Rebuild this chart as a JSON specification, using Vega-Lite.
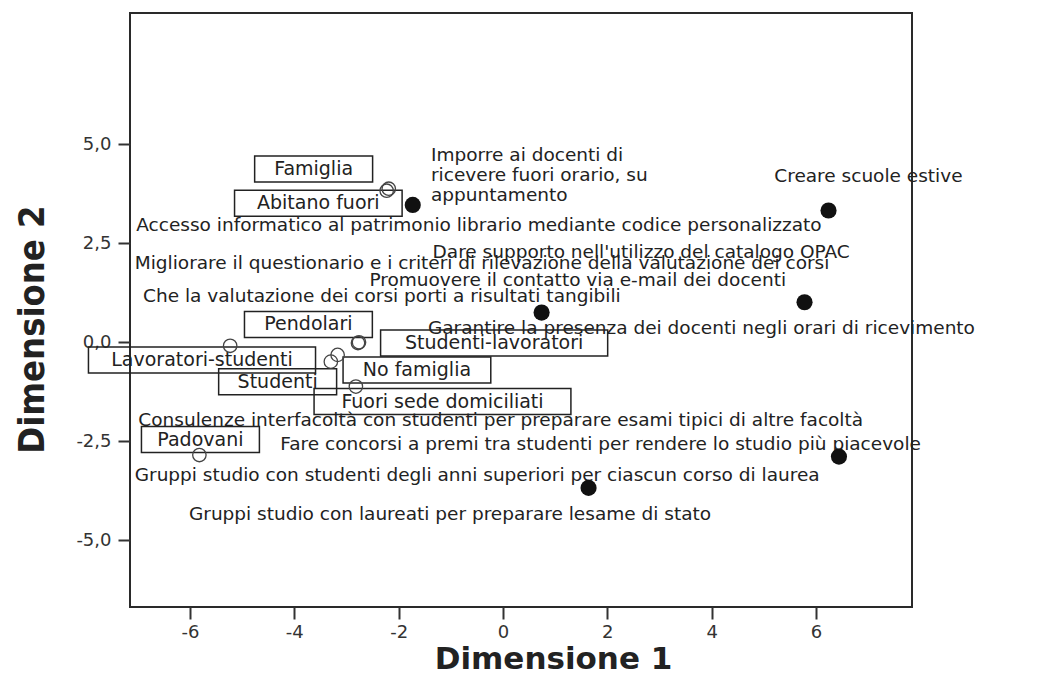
{
  "$schema": "https://vega.github.io/schema/vega-lite/v6.json",
  "width": 782,
  "height": 594,
  "autosize": {"type": "none"},
  "padding": {"left": 130, "top": 13, "right": 144, "bottom": 69},
  "background": "white",
  "config": {
    "view": {"stroke": "#2a2a2a", "strokeWidth": 2}
  },
  "datasets": {
    "modalita": [
      {"categoria": "Famiglia", "dim1": -2.23, "dim2": 3.83},
      {"categoria": "Abitano fuori", "dim1": -2.19, "dim2": 3.88},
      {"categoria": "Pendolari", "dim1": -2.78, "dim2": -0.02},
      {"categoria": "Studenti-lavoratori", "dim1": -2.76, "dim2": 0.0},
      {"categoria": "Lavoratori-studenti", "dim1": -5.23, "dim2": -0.09},
      {"categoria": "No famiglia", "dim1": -3.17, "dim2": -0.32},
      {"categoria": "Studenti", "dim1": -3.3, "dim2": -0.49},
      {"categoria": "Fuori sede domiciliati", "dim1": -2.82, "dim2": -1.12},
      {"categoria": "Padovani", "dim1": -5.82, "dim2": -2.85}
    ],
    "etichette_modalita": [
      {"categoria": "Famiglia", "dim1": -3.63, "dim2": 4.38},
      {"categoria": "Abitano fuori", "dim1": -3.54, "dim2": 3.51},
      {"categoria": "Pendolari", "dim1": -3.73, "dim2": 0.45},
      {"categoria": "Studenti-lavoratori", "dim1": -0.17, "dim2": -0.02},
      {"categoria": "Lavoratori-studenti", "dim1": -5.77, "dim2": -0.45},
      {"categoria": "No famiglia", "dim1": -1.65, "dim2": -0.7},
      {"categoria": "Studenti", "dim1": -4.32, "dim2": -1.0},
      {"categoria": "Fuori sede domiciliati", "dim1": -1.16, "dim2": -1.5},
      {"categoria": "Padovani", "dim1": -5.8, "dim2": -2.46}
    ],
    "proposte": [
      {"dim1": -1.73, "dim2": 3.47},
      {"dim1": 6.24, "dim2": 3.33},
      {"dim1": 0.74, "dim2": 0.75},
      {"dim1": 5.78, "dim2": 1.01},
      {"dim1": 6.44, "dim2": -2.89},
      {"dim1": 1.64, "dim2": -3.68}
    ],
    "etichette_proposte": [
      {"testo": "Imporre ai docenti di\nricevere fuori orario, su\nappuntamento", "dim1": -1.38, "dim2": 4.74},
      {"testo": "Creare scuole estive", "dim1": 5.2, "dim2": 4.21},
      {"testo": "Accesso informatico al patrimonio librario mediante codice personalizzato", "dim1": -7.03, "dim2": 2.97},
      {"testo": "Dare supporto nell'utilizzo del catalogo OPAC", "dim1": -1.35, "dim2": 2.29},
      {"testo": "Migliorare il questionario e i criteri di rilevazione della valutazione dei corsi", "dim1": -7.06, "dim2": 2.0},
      {"testo": "Promuovere il contatto via e-mail dei docenti", "dim1": -2.56, "dim2": 1.58},
      {"testo": "Che la valutazione dei corsi porti a risultati tangibili", "dim1": -6.9, "dim2": 1.16},
      {"testo": "Garantire la presenza dei docenti negli orari di ricevimento", "dim1": -1.44, "dim2": 0.36},
      {"testo": "Consulenze interfacoltà con studenti per preparare esami tipici di altre facoltà", "dim1": -6.99, "dim2": -1.97},
      {"testo": "Fare concorsi a premi tra studenti per rendere lo studio più piacevole", "dim1": -4.27, "dim2": -2.57},
      {"testo": "Gruppi studio con studenti degli anni superiori per ciascun corso di laurea", "dim1": -7.06, "dim2": -3.36},
      {"testo": "Gruppi studio con laureati per preparare lesame di stato", "dim1": -6.02, "dim2": -4.33}
    ]
  },
  "encoding": {
    "x": {
      "field": "dim1",
      "type": "quantitative",
      "scale": {"domain": [-7.15, 7.84], "nice": false, "zero": false},
      "axis": {
        "values": [-6, -4, -2, 0, 2, 4, 6],
        "labelExpr": "(datum.value < 0 ? '-' : '') + abs(datum.value)",
        "domain": false,
        "grid": false,
        "tickSize": 12,
        "tickWidth": 2,
        "tickColor": "#333333",
        "labelFont": "DejaVu Sans",
        "labelFontSize": 18,
        "labelColor": "#333333",
        "labelPadding": 4,
        "labelFlush": false,
        "labelOverlap": false,
        "title": "Dimensione 1",
        "titleFont": "DejaVu Sans",
        "titleFontSize": 31,
        "titleFontWeight": "bold",
        "titleColor": "#222222",
        "titleX": 423,
        "titleY": 61,
        "titleAlign": "center",
        "titleBaseline": "alphabetic"
      }
    },
    "y": {
      "field": "dim2",
      "type": "quantitative",
      "scale": {"domain": [-6.69, 8.32], "nice": false, "zero": false},
      "axis": {
        "values": [-5, -2.5, 0, 2.5, 5],
        "labelExpr": "(datum.value < 0 ? '-' : '') + replace(format(abs(datum.value), '.1f'), '.', ',')",
        "domain": false,
        "grid": false,
        "tickSize": 12,
        "tickWidth": 2,
        "tickColor": "#333333",
        "labelFont": "DejaVu Sans",
        "labelFontSize": 18,
        "labelColor": "#333333",
        "labelPadding": 7,
        "labelOverlap": false,
        "title": "Dimensione 2",
        "titleFont": "Liberation Sans Narrow, DejaVu Sans Condensed, Liberation Sans",
        "titleFontSize": 36,
        "titleFontWeight": "bold",
        "titleColor": "#222222",
        "titleAngle": 270,
        "titleX": -87,
        "titleY": 316,
        "titleAlign": "center",
        "titleBaseline": "alphabetic"
      }
    }
  },
  "layer": [
    {
      "data": {"name": "etichette_modalita"},
      "mark": {
        "type": "rect",
        "fill": "white",
        "fillOpacity": 0,
        "stroke": "#222222",
        "strokeWidth": 1.5,
        "xOffset": {"expr": "-(4.96 * length(datum.categoria) + 19.3)"},
        "x2Offset": {"expr": "4.96 * length(datum.categoria) + 19.3"},
        "yOffset": -13,
        "y2Offset": 13
      },
      "encoding": {
        "x2": {"field": "dim1"},
        "y2": {"field": "dim2"}
      }
    },
    {
      "data": {"name": "etichette_modalita"},
      "mark": {
        "type": "text",
        "align": "center",
        "baseline": "middle",
        "font": "DejaVu Sans",
        "fontSize": 19,
        "color": "#222222"
      },
      "encoding": {"text": {"field": "categoria"}}
    },
    {
      "data": {"name": "etichette_proposte"},
      "mark": {
        "type": "text",
        "align": "left",
        "baseline": "middle",
        "lineBreak": "\n",
        "lineHeight": 20,
        "font": "DejaVu Sans",
        "fontSize": 18.5,
        "color": "#222222"
      },
      "encoding": {"text": {"field": "testo"}}
    },
    {
      "data": {"name": "modalita"},
      "mark": {
        "type": "point",
        "shape": "circle",
        "filled": false,
        "size": 180,
        "stroke": "#444444",
        "strokeWidth": 1.3,
        "opacity": 1
      }
    },
    {
      "data": {"name": "proposte"},
      "mark": {
        "type": "point",
        "shape": "circle",
        "filled": true,
        "size": 260,
        "color": "#111111",
        "opacity": 1
      }
    }
  ]
}
